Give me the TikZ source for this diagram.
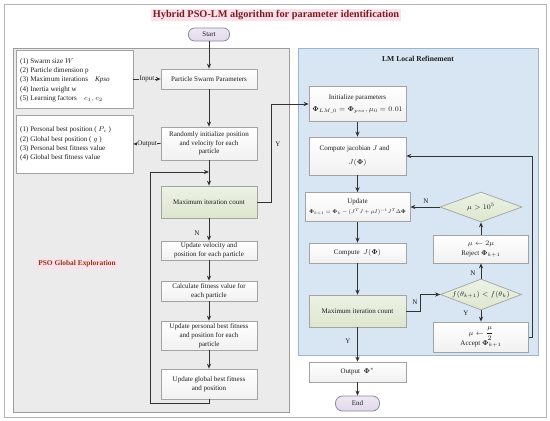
\documentclass[tikz,border=0pt]{standalone}
\usepackage{amsmath}
\usepackage{graphicx}
\usepackage[no-math]{fontspec}
\setmainfont{Liberation Serif}
\usetikzlibrary{arrows.meta,shapes.geometric,calc}
\hyphenpenalty=10000
\exhyphenpenalty=10000
\definecolor{psogray}{HTML}{EBEBEB}
\definecolor{psob}{HTML}{9C9C9C}
\definecolor{lmblue}{HTML}{D7E6F2}
\definecolor{lmb}{HTML}{9DB6CB}
\definecolor{boxb}{HTML}{A3A3A3}
\definecolor{boxbot}{HTML}{F1F1F1}
\definecolor{grntop}{HTML}{EDF2E5}
\definecolor{grnbot}{HTML}{DDE6CF}
\definecolor{lav}{HTML}{E1D9EB}
\definecolor{lavb}{HTML}{8F869E}
\definecolor{titlered}{HTML}{7A1C1C}
\definecolor{pinkbg}{HTML}{FCE1EC}
\definecolor{brownt}{HTML}{8A3B12}
\definecolor{lnc}{HTML}{333333}
\definecolor{txt}{HTML}{1E1E1E}
\definecolor{frameb}{HTML}{B4B4B4}
\newcommand{\PhiB}{\boldsymbol{\Phi}}
\tikzset{
  basefont/.style={font=\fontsize{7}{8.8}\selectfont, text=txt},
  box/.style={basefont, draw=boxb, line width=0.7pt, top color=white, bottom color=boxbot,
              inner sep=1pt, align=flush center, text width=93pt, minimum width=96pt},
  gbox/.style={box, top color=grntop, bottom color=grnbot},
  pill/.style={basefont, draw=lavb, line width=0.8pt, top color=lav!60, bottom color=lav,
               rounded corners=6pt, inner sep=0pt},
  dia/.style={basefont, diamond, draw=boxb, line width=0.7pt, top color=grntop, bottom color=grnbot,
              inner sep=0pt},
  listbox/.style={draw=boxb, line width=0.7pt, fill=white, inner sep=0pt},
  listtext/.style={font=\fontsize{7.1}{9.3}\selectfont, text=txt, align=left, anchor=west, inner sep=0pt},
  conn/.style={draw=lnc, line width=0.9pt},
  arr/.style={conn, -{Stealth[length=5pt,width=4.2pt]}},
  lbl/.style={basefont, inner sep=0.5pt}
}
\begin{document}
\begin{tikzpicture}[x=1pt,y=-1pt]
\useasboundingbox (0,0) rectangle (550,421);
% outer frame
\path[fill=white] (0,0) rectangle (550,421);
\draw[frameb, line width=0.8pt, fill=white] (4,4) rectangle (546,417);
% title
\node[font=\bfseries\fontsize{10.3}{12}\selectfont, text=titlered, fill=pinkbg, inner sep=1.5pt] (title) at (276,15)
  {Hybrid PSO-LM algorithm for parameter identification};
% panels
\draw[psob, line width=0.8pt, fill=psogray] (13,48) rectangle (289,412);
\draw[lmb, line width=0.8pt, fill=lmblue] (298,48) rectangle (538,355);
\node[font=\bfseries\fontsize{7.6}{9}\selectfont, text=txt] (lmtitle) at (418,59) {LM Local Refinement};
\node[font=\bfseries\fontsize{7.4}{9}\selectfont, text=brownt, fill=pinkbg, inner sep=1.5pt] (psotitle) at (77,264) {PSO Global Exploration};

% start
\node[pill, minimum width=41pt, minimum height=13pt] (start) at (209,34.5) {Start};

% list boxes
\node[listbox, minimum width=117pt, minimum height=58pt] (inbox) at (74.5,79) {};
\node[listtext] (intext) at (20,80) {(1) Swarm size $W$\\(2) Particle dimension p\\(3) Maximum iterations\quad \textit{Kpso}\\(4) Inertia weight w\\(5) Learning factors\quad $c_1,c_2$};
\node[listbox, minimum width=117pt, minimum height=58pt] (outbox) at (74.5,144) {};
\node[listtext] (outtext) at (20,144) {(1) Personal best position ( $P_i$ )\\(2) Global best position ( $g$ )\\(3) Personal best fitness value\\(4) Global best fitness value};

% PSO column
\node[box, minimum height=20pt] (psp) at (209,79) {Particle Swarm Parameters};
\node[box, minimum height=33pt] (rinit) at (209,143.5) {Randomly initialize position\\and velocity for each\\particle};
\node[gbox, minimum height=32pt] (maxit1) at (209,202) {Maximum iteration count};
\node[box, minimum height=19pt] (updvel) at (209,250.5) {Update velocity and\\position for each particle};
\node[box, minimum height=20pt] (calcfit) at (209,291) {Calculate fitness value for\\each particle};
\node[box, minimum height=29pt] (updpb) at (209,335.5) {Update personal best fitness\\and position for each\\particle};
\node[box, minimum height=30pt] (updgb) at (209,384) {Update global best fitness\\and position};

% LM column
\node[box, text width=95pt, minimum width=97pt, minimum height=35pt] (init) at (357.5,104)
  {Initialize parameters\\[3pt] $\PhiB_{LM\_0}=\PhiB_{pso},\mu_0=0.01$};
\node[box, text width=95pt, minimum width=97pt, minimum height=38pt] (jac) at (357.5,156)
  {\hspace*{-6pt}Compute jacobian $J$ and\\[6pt] $J(\PhiB)$};
\node[box, text width=103pt, minimum width=104pt, minimum height=29pt] (upd) at (357.5,207)
  {Update\\[1pt] \resizebox{97pt}{!}{$\PhiB_{k+1}=\PhiB_k-(J^TJ+\mu I)^{-1}J^T\Delta\PhiB$}};
\node[box, text width=95pt, minimum width=97pt, minimum height=20pt] (compJ) at (357.5,253) {Compute\ \ $J(\PhiB)$};
\node[gbox, text width=95pt, minimum width=97pt, minimum height=32pt] (maxit2) at (357.5,311) {Maximum iteration count};
\node[box, text width=95pt, minimum width=97pt, minimum height=20pt] (output) at (357.5,372) {Output\ \ $\PhiB^*$};
\node[pill, minimum width=44pt, minimum height=15pt, rounded corners=7pt] (end) at (357.5,403.5) {End};

\node[dia, minimum width=82pt, minimum height=30pt, aspect=2.7] (dmu) at (481,207) {$\mu>10^5$};
\node[box, text width=93pt, minimum width=95pt, minimum height=28pt] (reject) at (481,249)
  {$\mu\leftarrow 2\mu$\\[1pt] Reject $\PhiB_{k+1}$};
\node[dia, minimum width=81pt, minimum height=31pt, aspect=2.6] (df) at (481,294.5) {$f(\theta_{k+1})<f(\theta_k)$};
\node[box, text width=93pt, minimum width=95pt, minimum height=30pt] (accept) at (481,337)
  {$\mu\leftarrow\dfrac{\mu}{2}$\\[-1pt] Accept $\PhiB_{k+1}$};

% PSO connectors
\draw[arr] (start) -- (psp);
\draw[arr] (psp) -- (rinit);
\draw[arr] (rinit) -- (maxit1);
\draw[arr] (maxit1) -- (updvel);
\draw[arr] (updvel) -- (calcfit);
\draw[arr] (calcfit) -- (updpb);
\draw[arr] (updpb) -- (updgb);
\coordinate (lpA) at (150,403);
\coordinate (lpB) at (209,172);
\draw[arr] (updgb.south) |- (lpA) |- (lpB);
\draw[arr] (inbox.east) -- node[lbl, fill=psogray] (inlbl) {Input} (psp.west);
\draw[arr] (rinit.west) -- node[lbl, fill=psogray] (outlbl) {Output} (outbox.east);
\coordinate (ycor) at (271,104);
\draw[arr] (maxit1.east) -| (ycor) -- (init.west);
\node[lbl] (yl1) at (278,144) {Y};
\node[lbl] (nl1) at (197,233) {N};

% LM connectors
\draw[arr] (init) -- (jac);
\draw[arr] (jac) -- (upd);
\draw[arr] (upd) -- (compJ);
\draw[arr] (compJ) -- (maxit2);
\draw[arr] (maxit2) -- (output);
\draw[arr] (output) -- (end);
\coordinate (fa) at (420,294.5);
\draw[arr] (maxit2.east) -| (fa) -- (df.west);
\draw[arr] (df) -- (reject);
\draw[arr] (df) -- (accept);
\draw[arr] (reject) -- (dmu);
\draw[arr] (dmu) -- (upd);
\coordinate (rb) at (532,156);
\draw[arr] (accept.east) -| (rb) -- (jac.east);
\node[lbl] (nl2) at (426,201) {N};
\node[lbl] (nl3) at (415,302) {N};
\node[lbl] (nl4) at (473,273) {N};
\node[lbl] (yl2) at (466,313) {Y};
\node[lbl] (yl3) at (348,341) {Y};
\end{tikzpicture}
\end{document}
